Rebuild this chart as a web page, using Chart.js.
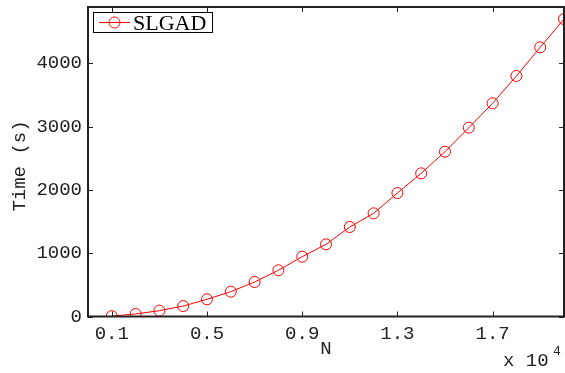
<!DOCTYPE html>
<html>
<head>
<meta charset="utf-8">
<script src="https://cdn.jsdelivr.net/npm/chart.js@4/dist/chart.umd.min.js"></script>
<style>
  html, body { margin: 0; padding: 0; background: #fff; }
  #wrap { width: 565px; height: 373px; }
</style>
</head>
<body>
<div id="wrap"><canvas id="chart" width="565" height="373"></canvas></div>
<script>
// N in units of 10^4
const nValues = [0.1, 0.2, 0.3, 0.4, 0.5, 0.6, 0.7, 0.8, 0.9, 1.0,
                 1.1, 1.2, 1.3, 1.4, 1.5, 1.6, 1.7, 1.8, 1.9, 2.0];
const timeValues = [5, 40, 92, 165, 272, 392, 545, 730, 945, 1140,
                    1414, 1630, 1951, 2262, 2604, 2983, 3368, 3800, 4253, 4700];
const xTicks = [0.1, 0.5, 0.9, 1.3, 1.7];
const yTicks = [0, 1000, 2000, 3000, 4000];
const seriesName = 'SLGAD';

const MONO = '"Liberation Mono", "Courier New", monospace';
const SERIF = '"Liberation Serif", "Times New Roman", serif';
const INK = '#222';

// box, inward ticks, legend and axis captions (MATLAB style)
const frame = {
    id: 'frame',
    afterDraw(chart) {
        const ctx = chart.ctx;
        const a = chart.chartArea;
        const xs = chart.scales.x, ys = chart.scales.y;
        ctx.save();
        ctx.strokeStyle = INK;
        ctx.lineWidth = 1;
        ctx.beginPath();
        xTicks.forEach(v => {
            const px = Math.round(xs.getPixelForValue(v)) + 0.5;
            ctx.moveTo(px, a.bottom); ctx.lineTo(px, a.bottom - 5);
            ctx.moveTo(px, a.top); ctx.lineTo(px, a.top + 5);
        });
        yTicks.forEach(v => {
            const py = Math.round(ys.getPixelForValue(v)) + 0.5;
            ctx.moveTo(a.left, py); ctx.lineTo(a.left + 5, py);
            ctx.moveTo(a.right, py); ctx.lineTo(a.right - 5, py);
        });
        ctx.stroke();
        ctx.lineWidth = 2;
        ctx.strokeRect(a.left, a.top, a.right - a.left, a.bottom - a.top);

        // legend
        const lx = 93, ly = 12, lw = 119, lh = 20;
        ctx.fillStyle = '#fff';
        ctx.fillRect(lx, ly, lw, lh);
        ctx.lineWidth = 1;
        ctx.strokeStyle = '#000';
        ctx.strokeRect(lx + 0.5, ly + 0.5, lw, lh);
        ctx.strokeStyle = '#ff0000';
        ctx.beginPath();
        ctx.moveTo(99, 22.5); ctx.lineTo(130, 22.5);
        ctx.stroke();
        ctx.beginPath();
        ctx.arc(114.5, 22.5, 5.5, 0, Math.PI * 2);
        ctx.stroke();
        ctx.fillStyle = '#000';
        ctx.font = '22px ' + SERIF;
        ctx.textBaseline = 'alphabetic';
        ctx.textAlign = 'left';
        ctx.fillText(seriesName, 133, 30);

        // axis captions
        ctx.fillStyle = INK;
        ctx.font = '19px ' + MONO;
        ctx.textAlign = 'center';
        ctx.textBaseline = 'middle';
        ctx.fillText('N', (a.left + a.right) / 2, 349);
        ctx.save();
        ctx.translate(20, 166);
        ctx.rotate(-Math.PI / 2);
        ctx.fillText('Time (s)', 0, 0);
        ctx.restore();
        ctx.textAlign = 'left';
        ctx.textBaseline = 'alphabetic';
        ctx.fillText('x 10', 503, 366);
        ctx.font = '13px ' + MONO;
        ctx.fillText('4', 553, 355);
        ctx.restore();
    }
};

new Chart(document.getElementById('chart'), {
    type: 'line',
    data: {
        datasets: [{
            label: seriesName,
            data: nValues.map((n, i) => ({ x: n, y: timeValues[i] })),
            borderColor: '#ff0000',
            borderWidth: 1,
            pointStyle: 'circle',
            pointRadius: 5.5,
            pointBorderWidth: 1,
            pointBorderColor: '#ff0000',
            pointBackgroundColor: 'rgba(0,0,0,0)',
            tension: 0
        }]
    },
    options: {
        responsive: false,
        animation: false,
        layout: { autoPadding: false, padding: { top: 7, right: 1, left: 0, bottom: 0 } },
        plugins: { legend: { display: false }, tooltip: { enabled: false } },
        scales: {
            x: {
                type: 'linear',
                min: 0,
                max: 2,
                afterBuildTicks: s => { s.ticks = xTicks.map(v => ({ value: v })); },
                afterFit: s => { s.height = 56.5; s.paddingLeft = 0; s.paddingRight = 0; },
                grid: { display: false, drawTicks: false },
                border: { display: false },
                ticks: {
                    color: INK,
                    font: { family: MONO, size: 19 },
                    padding: 6,
                    maxRotation: 0,
                    callback: v => v.toFixed(1)
                }
            },
            y: {
                type: 'linear',
                min: 0,
                max: 4890,
                afterBuildTicks: s => { s.ticks = yTicks.map(v => ({ value: v })); },
                afterFit: s => { s.width = 88; s.paddingTop = 0; s.paddingBottom = 0; },
                grid: { display: false, drawTicks: false },
                border: { display: false },
                ticks: {
                    color: INK,
                    font: { family: MONO, size: 19 },
                    padding: 6,
                    callback: v => String(v)
                }
            }
        }
    },
    plugins: [frame]
});
</script>
</body>
</html>
